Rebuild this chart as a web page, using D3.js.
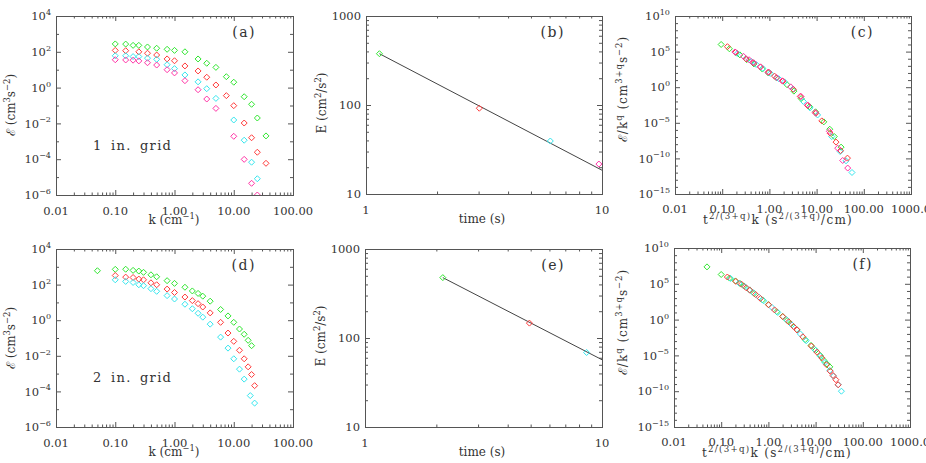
<!DOCTYPE html>
<html>
<head>
<meta charset="utf-8">
<script src="https://cdn.jsdelivr.net/npm/d3@7"></script>
<style>
  body { margin: 0; background: #fff; }
  text { font-family: "DejaVu Serif", "Liberation Serif", serif; fill: #333; }
</style>
</head>
<body>
<div id="main"></div>
<script>
'use strict';

// ---- (a) 1 in. grid spectra : k (cm^-1) vs E
var kA_green = [0.1, 0.15, 0.2, 0.25, 0.35, 0.5, 0.75, 1, 1.5, 2.5, 3.5, 5, 7.5, 10, 15, 20, 25, 35];
var eA_green = [275, 270, 229, 229, 186, 158, 138, 120, 100, 39.8, 22.9, 13.5, 4.07, 2.0, 0.309, 0.117, 0.020, 0.0020];
var kA_red = [0.1, 0.15, 0.25, 0.35, 0.5, 0.75, 1, 1.5, 2.5, 3.5, 5, 7.5, 10, 15, 20, 25, 35];
var eA_red = [120, 115, 100, 83, 66, 40, 31.6, 16.2, 8.5, 3.8, 1.4, 0.355, 0.098, 0.0105, 0.00158, 2.45e-4, 5.9e-5];
var kA_cyan = [0.1, 0.15, 0.2, 0.25, 0.35, 0.5, 0.75, 1, 1.5, 2.5, 3.5, 5, 10, 15, 20, 25];
var eA_cyan = [60, 60, 54, 54, 44, 38, 19, 11.5, 5.1, 2.1, 0.87, 0.25, 0.0155, 0.00115, 6.8e-5, 8.1e-6];
var kA_magenta = [0.1, 0.15, 0.2, 0.25, 0.35, 0.5, 0.75, 1, 1.5, 2.5, 3.5, 5, 10, 15, 20, 25];
var eA_magenta = [36, 35, 34, 31, 24.5, 18.2, 10, 6.6, 2.43, 0.76, 0.23, 0.069, 0.0019, 9.8e-5, 4.5e-6, 1.0e-6];

// ---- (b) energy decay, 1 in. grid
var tB = [1.14, 3.02, 6.04, 9.7];
var eB = [377, 92, 39.4, 21.7];
var tB_fit = [1.14, 10];
var eB_fit = [377, 18.5];

// ---- (c) collapsed spectra, 1 in. grid
var xC_green = [0.095, 0.142, 0.19, 0.237, 0.33, 0.47, 0.71, 0.95, 1.42, 2.37, 3.3, 4.7, 7.1, 9.5, 14.2, 19, 23.7, 33];
var yC_green = [1.0e6, 2.5e5, 7.9e4, 3.5e4, 7.4e3, 1.86e3, 355, 100, 20, 2.2, 0.28, 0.025, 1.9e-3, 3.5e-4, 1.35e-5, 1.26e-6, 1.17e-7, 3.8e-9];
var xC_red = [0.129, 0.193, 0.322, 0.451, 0.644, 0.966, 1.29, 1.93, 3.22, 4.51, 6.44, 9.66, 12.9, 19.3, 25.8, 32.2, 45.1];
var yC_red = [4.9e5, 7.9e4, 9.3e3, 2.8e3, 708, 132, 35.5, 7.1, 0.5, 0.05, 2.6e-3, 2.2e-4, 1.86e-5, 3.5e-7, 1.95e-8, 1.26e-9, 1.1e-10];
var xC_cyan = [0.209, 0.316, 0.417, 0.525, 0.724, 1.05, 1.57, 2.09, 3.16, 5.25, 7.24, 10.5, 20.9, 31.6, 42, 56.2];
var yC_cyan = [5.6e4, 1.0e4, 4.0e3, 1.58e3, 447, 89, 15.8, 5.6, 0.56, 0.01, 1.26e-3, 1.26e-4, 1.17e-7, 9.3e-10, 4.6e-11, 1.05e-12];
var xC_magenta = [0.186, 0.282, 0.372, 0.468, 0.646, 0.933, 1.41, 1.86, 2.82, 4.68, 6.46, 9.33, 18.6, 28, 35.7, 45.6];
var yC_magenta = [8.9e4, 2.2e4, 7.1e3, 2.6e3, 708, 126, 22.4, 7.9, 1.12, 0.05, 3.2e-3, 2.8e-4, 6.3e-7, 2.75e-9, 5.1e-11, 4.4e-12];

// ---- (d) 2 in. grid spectra
var kD_green = [0.05, 0.1, 0.15, 0.2, 0.25, 0.3, 0.4, 0.5, 0.75, 1, 1.5, 2, 2.5, 3, 4, 6, 8, 10, 12.5, 15, 17.5, 20];
var eD_green = [600, 720, 730, 630, 575, 490, 355, 275, 166, 117, 71, 44, 32, 22.4, 11.7, 4.0, 1.74, 0.76, 0.32, 0.162, 0.074, 0.037];
var kD_red = [0.1, 0.15, 0.2, 0.25, 0.3, 0.4, 0.5, 0.75, 1, 1.5, 2, 2.5, 3, 4, 6, 8, 10, 12.5, 15, 17.5, 20, 22.5];
var eD_red = [324, 263, 251, 204, 186, 126, 98, 56, 36, 20, 12.6, 8.5, 5.5, 2.57, 0.76, 0.19, 0.065, 0.0204, 0.0068, 0.0024, 8.9e-4, 2.1e-4];
var kD_cyan = [0.1, 0.15, 0.2, 0.25, 0.3, 0.4, 0.5, 0.75, 1, 1.5, 2, 2.5, 3, 4, 6, 8, 10, 12.5, 15, 19, 22.5];
var eD_cyan = [186, 151, 132, 98, 87, 59, 42, 24, 15.5, 7.9, 4.4, 2.45, 1.48, 0.60, 0.112, 0.027, 0.0068, 0.00178, 4.9e-4, 5.8e-5, 2.2e-5];

// ---- (e) energy decay, 2 in. grid
var tE = [2.13, 4.94, 8.61];
var eE = [477, 147, 68.7];
var tE_fit = [2.13, 10];
var eE_fit = [477, 57];

// ---- (f) collapsed spectra, 2 in. grid
var xF_green = [0.05, 0.1, 0.15, 0.2, 0.25, 0.3, 0.4, 0.5, 0.75, 1, 1.5, 2, 2.5, 3, 4, 6, 8, 10, 12.5, 15, 17.5, 20];
var yF_green = [2.3e7, 2.0e6, 6.3e5, 2.5e5, 1.12e5, 5.0e4, 1.41e4, 4.5e3, 562, 126, 12.6, 2.8, 0.76, 0.25, 0.04, 1.6e-3, 2.5e-4, 5.0e-5, 1.0e-5, 2.0e-6, 6.3e-7, 2.5e-7];
var xF_red = [0.135, 0.204, 0.269, 0.339, 0.407, 0.537, 0.676, 1.01, 1.35, 2.02, 2.69, 3.39, 4.05, 5.37, 8.13, 10.7, 13.5, 17, 20.4, 23.4, 26.9, 30];
var yF_red = [8.9e5, 2.2e5, 8.9e4, 2.8e4, 1.26e4, 3.2e3, 891, 117, 22.4, 2.6, 0.5, 0.112, 0.035, 4.0e-3, 2.0e-4, 2.8e-5, 4.5e-6, 5.0e-7, 6.3e-8, 1.58e-8, 4.0e-9, 7.9e-10];
var xF_cyan = [0.158, 0.24, 0.316, 0.398, 0.479, 0.631, 0.794, 1.19, 1.58, 2.38, 3.16, 3.98, 4.75, 6.31, 9.55, 12.6, 15.8, 20, 24, 30.2, 35.2];
var yF_cyan = [5.6e5, 1.26e5, 4.0e4, 1.41e4, 5.6e3, 1.41e3, 417, 50, 10, 1.05, 0.178, 0.04, 0.01, 1.12e-3, 7.1e-5, 7.9e-6, 1.0e-6, 7.9e-8, 1.26e-8, 7.9e-10, 1.0e-10];

// tick labels
var kTickLabels = ['0.01', '0.10', '1.00', '10.00', '100.00'];
var xcTickLabels = ['0.01', '0.10', '1.00', '10.00', '100.00', '1000.0'];
var tTickLabels = ['1', '10'];
var eTickLabels = ['10', '100', '1000'];

var COL = { green: '#2ee62e', red: '#ff3a3a', cyan: '#33e6ee', magenta: '#ff33a6' };

var W = 926, H = 463;
var FS = 11.5;   // tick label size
var TS = 12;     // axis title size
var svg = d3.select('#main').append('svg').attr('width', W).attr('height', H);

function decades(lo, hi, step) {
  var out = [];
  for (var e = lo; e <= hi; e += step) out.push(Math.pow(10, e));
  return out;
}
function subTicks(lo, hi) {
  // 2..9 within each decade
  var out = [];
  for (var e = lo; e < hi; e++)
    for (var m = 2; m <= 9; m++) out.push(m * Math.pow(10, e));
  return out;
}

function rich(sel, parts, fs, raise, scale) {
  raise = raise || 0.45;
  scale = scale || 0.7;
  var up = false;
  parts.forEach(function(p) {
    var sup = !!p[1];
    var t = sel.append('tspan').text(p[0]);
    if (sup && !up) t.attr('dy', -raise * fs);
    if (!sup && up) t.attr('dy', raise * fs);
    if (sup) t.attr('font-size', fs * scale);
    up = sup;
  });
}

function expParts(v) {
  var e = Math.round(Math.log10(v));
  return [['10'], [String(e).replace('-', '\u2212'), true]];
}

function panel(cfg) {
  var x0 = cfg.x0, y0 = cfg.y0, w = cfg.w, h = cfg.h;
  var x = d3.scaleLog().domain(cfg.xd).range([x0, x0 + w]);
  var y = d3.scaleLog().domain(cfg.yd).range([y0 + h, y0]);
  var g = svg.append('g').attr('color', '#555');

  var cid = 'clip-' + cfg.id;
  svg.append('clipPath').attr('id', cid)
    .append('rect').attr('x', x0).attr('y', y0).attr('width', w).attr('height', h);

  // inward ticks on all four sides
  [[cfg.xMaj, 5], [cfg.xMin, 2.5]].forEach(function(tk) {
    g.append('g').attr('transform', 'translate(0,' + (y0 + h) + ')')
      .call(d3.axisBottom(x).tickValues(tk[0]).tickSize(-tk[1]).tickFormat(''))
      .call(function(s) { s.select('.domain').remove(); });
    g.append('g').attr('transform', 'translate(0,' + y0 + ')')
      .call(d3.axisTop(x).tickValues(tk[0]).tickSize(-tk[1]).tickFormat(''))
      .call(function(s) { s.select('.domain').remove(); });
  });
  [[cfg.yMaj, 5], [cfg.yMin, 3]].forEach(function(tk) {
    g.append('g').attr('transform', 'translate(' + x0 + ',0)')
      .call(d3.axisLeft(y).tickValues(tk[0]).tickSize(-tk[1]).tickFormat(''))
      .call(function(s) { s.select('.domain').remove(); });
    g.append('g').attr('transform', 'translate(' + (x0 + w) + ',0)')
      .call(d3.axisRight(y).tickValues(tk[0]).tickSize(-tk[1]).tickFormat(''))
      .call(function(s) { s.select('.domain').remove(); });
  });

  g.append('rect').attr('x', x0 + 0.5).attr('y', y0 + 0.5).attr('width', w).attr('height', h)
    .attr('fill', 'none').attr('stroke', '#555').attr('stroke-width', 1);

  // x tick labels
  cfg.xMaj.forEach(function(v, i) {
    svg.append('text').attr('x', x(v)).attr('y', y0 + h + (cfg.xLabDy || 20))
      .attr('text-anchor', 'middle').attr('font-size', FS)
      .text(cfg.xLabels[i]);
  });
  // y tick labels
  cfg.yMaj.forEach(function(v, i) {
    var t = svg.append('text').attr('x', x0 - 5).attr('y', y(v) + 4.2)
      .attr('text-anchor', 'end').attr('font-size', FS);
    if (cfg.yLabels) t.text(cfg.yLabels[i]);
    else rich(t, expParts(v), FS);
  });

  // axis titles
  var xt = svg.append('text').attr('x', cfg.xTitleX).attr('y', y0 + h + (cfg.xTitleDy || 29))
    .attr('text-anchor', 'middle').attr('font-size', TS)
    .attr('letter-spacing', cfg.xTitleLs || 0);
  rich(xt, cfg.xTitle, TS, cfg.xSupRaise, cfg.xSupScale);
  var yt = svg.append('text')
    .attr('transform', 'translate(' + cfg.yTitleX + ',' + cfg.yTitleY + ') rotate(-90)')
    .attr('text-anchor', 'middle').attr('font-size', TS)
    .attr('letter-spacing', cfg.yTitleLs || 0);
  rich(yt, cfg.yTitle, TS);

  svg.append('text').attr('x', x0 + w - 37).attr('y', y0 + 21)
    .attr('text-anchor', 'end').attr('font-size', 14).attr('letter-spacing', 1.5).text(cfg.tag);

  if (cfg.note) {
    svg.append('text').attr('x', cfg.note.x).attr('y', cfg.note.y)
      .attr('font-size', 13).attr('letter-spacing', 1.3).attr('word-spacing', 3)
      .text(cfg.note.text);
  }

  var plot = svg.append('g').attr('clip-path', 'url(#' + cid + ')');

  if (cfg.fit) {
    plot.append('path')
      .datum(d3.zip(cfg.fit[0], cfg.fit[1]))
      .attr('fill', 'none').attr('stroke', '#444').attr('stroke-width', 1)
      .attr('d', d3.line().x(function(d) { return x(d[0]); }).y(function(d) { return y(d[1]); }));
  }

  var r = 3;
  cfg.series.forEach(function(s) {
    plot.append('g').selectAll('path')
      .data(d3.zip(s.x, s.y)).enter()
      .append('path')
      .attr('d', function(d) {
        var px = x(d[0]), py = y(d[1]);
        return 'M' + px + ',' + (py - r) + 'L' + (px + r) + ',' + py + 'L' + px + ',' + (py + r) + 'L' + (px - r) + ',' + py + 'Z';
      })
      .attr('fill', 'none').attr('stroke', s.c).attr('stroke-width', 1);
  });
}

var epsTitle = [['\u2130 (cm'], ['3', true], ['s'], ['\u22122', true], [')']];
var eTitle = [['E (cm'], ['2', true], ['/s'], ['2', true], [')']];
var kTitle = [['k (cm'], ['\u22121', true], [')']];
var cxTitle = [['t'], ['2/(3+q)', true], ['k (s'], ['2/(3+q)', true], ['/cm)']];
var cyTitle = [['\u2130/k'], ['q', true], [' (cm'], ['3+q', true], ['s'], ['\u22122', true], [')']];

var colX = [56, 366, 675];

panel({
  id: 'a', x0: colX[0], y0: 16, w: 237, h: 179,
  xd: [0.01, 100], yd: [1e-6, 1e4],
  xMaj: decades(-2, 2, 1), xMin: subTicks(-2, 2), xLabels: kTickLabels,
  yMaj: decades(-6, 4, 2), yMin: decades(-5, 3, 2),
  xTitle: kTitle, xTitleX: 174, yTitle: epsTitle, yTitleX: 15, yTitleY: 105,
  tag: '(a)', note: { x: 93, y: 150, text: '1 in. grid' },
  series: [
    { x: kA_green, y: eA_green, c: COL.green },
    { x: kA_red, y: eA_red, c: COL.red },
    { x: kA_cyan, y: eA_cyan, c: COL.cyan },
    { x: kA_magenta, y: eA_magenta, c: COL.magenta }
  ]
});

panel({
  id: 'b', x0: colX[1], y0: 16, w: 236, h: 178,
  xd: [1, 10], yd: [10, 1000],
  xMaj: decades(0, 1, 1), xMin: subTicks(0, 1), xLabels: tTickLabels,
  yMaj: decades(1, 3, 1), yMin: subTicks(1, 3), yLabels: eTickLabels,
  xTitle: [['time (s)']], xTitleX: 482, yTitle: eTitle, yTitleX: 326, yTitleY: 103,
  tag: '(b)', fit: [tB_fit, eB_fit],
  series: [
    { x: [tB[0]], y: [eB[0]], c: COL.green },
    { x: [tB[1]], y: [eB[1]], c: COL.red },
    { x: [tB[2]], y: [eB[2]], c: COL.cyan },
    { x: [tB[3]], y: [eB[3]], c: COL.magenta }
  ]
});

panel({
  id: 'c', x0: colX[2], y0: 16, w: 236, h: 178,
  xd: [0.01, 1000], yd: [1e-15, 1e10],
  xMaj: decades(-2, 3, 1), xMin: subTicks(-2, 3), xLabels: xcTickLabels, xLabDy: 19,
  yMaj: decades(-15, 10, 5), yMin: decades(-15, 10, 1).filter(function(v, i) { return i % 5 !== 0; }),
  xTitle: cxTitle, xTitleX: 778, xTitleDy: 29.5, xTitleLs: 1.3, xSupRaise: 0.36, xSupScale: 0.72,
  yTitle: cyTitle, yTitleX: 627, yTitleY: 89, yTitleLs: 1,
  tag: '(c)',
  series: [
    { x: xC_green, y: yC_green, c: COL.green },
    { x: xC_cyan, y: yC_cyan, c: COL.cyan },
    { x: xC_red, y: yC_red, c: COL.red },
    { x: xC_magenta, y: yC_magenta, c: COL.magenta }
  ]
});

panel({
  id: 'd', x0: colX[0], y0: 249, w: 237, h: 178,
  xd: [0.01, 100], yd: [1e-6, 1e4],
  xMaj: decades(-2, 2, 1), xMin: subTicks(-2, 2), xLabels: kTickLabels,
  yMaj: decades(-6, 4, 2), yMin: decades(-5, 3, 2),
  xTitle: kTitle, xTitleX: 174, yTitle: epsTitle, yTitleX: 15, yTitleY: 338,
  tag: '(d)', note: { x: 93, y: 382, text: '2 in. grid' },
  series: [
    { x: kD_green, y: eD_green, c: COL.green },
    { x: kD_red, y: eD_red, c: COL.red },
    { x: kD_cyan, y: eD_cyan, c: COL.cyan }
  ]
});

panel({
  id: 'e', x0: colX[1] - 1, y0: 249, w: 237, h: 178,
  xd: [1, 10], yd: [10, 1000],
  xMaj: decades(0, 1, 1), xMin: subTicks(0, 1), xLabels: tTickLabels,
  yMaj: decades(1, 3, 1), yMin: subTicks(1, 3), yLabels: eTickLabels,
  xTitle: [['time (s)']], xTitleX: 482, yTitle: eTitle, yTitleX: 325, yTitleY: 336,
  tag: '(e)', fit: [tE_fit, eE_fit],
  series: [
    { x: [tE[0]], y: [eE[0]], c: COL.green },
    { x: [tE[1]], y: [eE[1]], c: COL.red },
    { x: [tE[2]], y: [eE[2]], c: COL.cyan }
  ]
});

panel({
  id: 'f', x0: colX[2] - 1, y0: 248, w: 236, h: 179,
  xd: [0.01, 1000], yd: [1e-15, 1e10],
  xMaj: decades(-2, 3, 1), xMin: subTicks(-2, 3), xLabels: xcTickLabels, xLabDy: 19,
  yMaj: decades(-15, 10, 5), yMin: decades(-15, 10, 1).filter(function(v, i) { return i % 5 !== 0; }),
  xTitle: cxTitle, xTitleX: 777, xTitleDy: 29.5, xTitleLs: 1.3, xSupRaise: 0.36, xSupScale: 0.72,
  yTitle: cyTitle, yTitleX: 627, yTitleY: 322, yTitleLs: 1,
  tag: '(f)',
  series: [
    { x: xF_green, y: yF_green, c: COL.green },
    { x: xF_cyan, y: yF_cyan, c: COL.cyan },
    { x: xF_red, y: yF_red, c: COL.red }
  ]
});
</script>
</body>
</html>
